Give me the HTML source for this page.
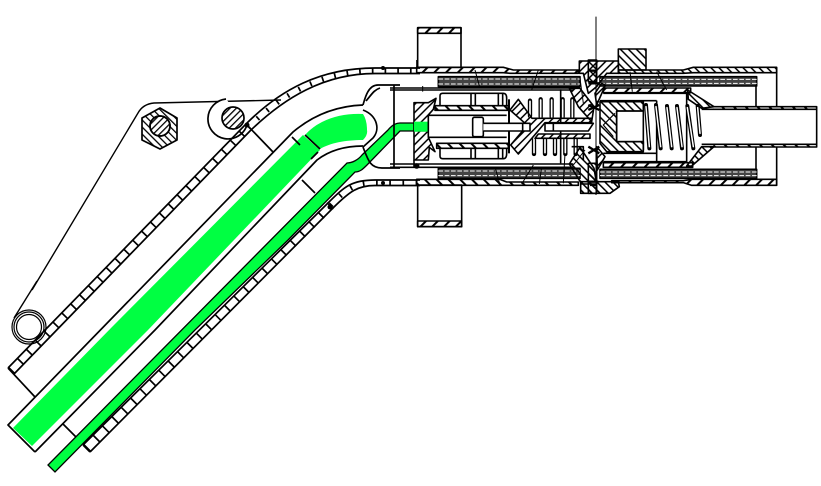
<!DOCTYPE html>
<html><head><meta charset="utf-8"><style>html,body{margin:0;padding:0;background:#fff}svg{display:block}</style></head>
<body>
<svg width="821" height="486" viewBox="0 0 821 486" xmlns="http://www.w3.org/2000/svg">
<defs>
<pattern id="h" width="4.5" height="4.5" patternUnits="userSpaceOnUse" patternTransform="rotate(45)"><rect width="1.300" height="4.5" fill="#000"/></pattern>
<pattern id="k" width="5" height="5" patternUnits="userSpaceOnUse" patternTransform="rotate(-45)"><rect width="1.300" height="5" fill="#000"/></pattern>
<pattern id="b" width="25" height="25" patternUnits="userSpaceOnUse" patternTransform="rotate(45)"><rect width="6" height="25" fill="#000"/></pattern>
<pattern id="c" width="25" height="25" patternUnits="userSpaceOnUse" patternTransform="rotate(-45)"><rect width="6" height="25" fill="#000"/></pattern>
<pattern id="z" width="17" height="17" patternUnits="userSpaceOnUse" patternTransform="rotate(45)"><rect width="4.500" height="17" fill="#000"/></pattern>
<pattern id="y" width="17" height="17" patternUnits="userSpaceOnUse" patternTransform="rotate(-45)"><rect width="4.500" height="17" fill="#000"/></pattern>
</defs>
<rect width="821" height="486" fill="#fff"/>
<g fill="none" stroke="#000" stroke-width="1.700" stroke-linejoin="round">
<!-- plate -->
<path d="M32 290L138 113Q143 104 154 103L281 100" stroke-width="1.400"/>
<polygon points="160,108 177,118 177,140 160,149 142,140 142,118" fill="url(#k)"/>
<circle cx="160" cy="126" r="10" fill="#fff"/><circle cx="160" cy="126" r="10" fill="url(#h)"/>
<path d="M247 125A20 20 0 1 1 226 99" fill="#fff"/>
<circle cx="233" cy="118" r="11" fill="url(#h)"/>
<!-- ring -->
<path d="M37 281L14 318" stroke-width="1.400"/>
<circle cx="29" cy="327" r="17" fill="#fff" stroke-width="1.200"/><circle cx="29" cy="327" r="15" stroke-width="1.200"/><circle cx="29" cy="327" r="12.500" stroke-width="1.200"/>
<!-- upper wall -->
<path d="M8 368L35 397"/>
<path d="M8 368L246 124C280 90 320 68 375 68H420"/>
<path d="M14 374L250 131C284 98 324 73.500 375 73.500H420"/>
<path d="M11 371L248 127.500" stroke-width="8" stroke-dasharray="1.700 11"/>
<path d="M248 127.500C282 94 322 71 375 71H420" stroke-width="5" stroke-dasharray="1.700 11"/>
<path d="M247 125L273 152"/>
<!-- lower wall -->
<path d="M83 445L90 452"/>
<path d="M83 445L328 203C345 186 352 180 375 180H420"/>
<path d="M90 452L333 208C350 191 358 185.500 375 185.500H420"/>
<path d="M86.500 448.500L330.500 205.500" stroke-width="9" stroke-dasharray="1.700 11.500"/>
<path d="M330.500 205.500C347 188.500 355 183 375 183H420" stroke-width="5" stroke-dasharray="1.700 11.500"/>
</g>
<!-- green -->
<polygon points="13,428 32,446 148,330 320,150 303,135 112,327" fill="#00ff42"/>
<path d="M305 135Q312 127 322 122Q340 113 363 114Q367 120 367 130Q368 135 363 140C345 140 330 143 320 149Z" fill="#00ff42"/>
<path d="M48 465L55 472L195 330L288 240L355 172C360 172 363 169 367 165L400 131H428V123H400C396 123 392 125 388 130L362 155C358 160 352 163 347 163Z" fill="#00ff42" stroke="#000" stroke-width="1.300"/>
<g fill="none" stroke="#000" stroke-width="1.700" stroke-linejoin="round">
<!-- main tube -->
<path d="M35 452L8 425L293 132C312 116 335 106 363 105"/>
<path d="M35 452L155 330L317 160C330 150 345 146 363 146"/>
<path d="M305 135L320 149"/>
<path d="M292 137L300 145M311 159L318 152"/>
<path d="M63 424L76 437M302 180L315 193"/>
<!-- end cap -->
<path d="M363 105C365 98 368 85 378 85H400M363 147C368 160 370 168 382 168H400"/>
<path d="M363 110C378 116 380 130 373 138L363 147"/>
<path d="M366 101C372 94 374 90 380 88"/>
<path d="M394 85V168"/>
</g>
<g fill="#000"><circle cx="247" cy="125" r="2.500"/><circle cx="330" cy="207" r="2.500"/><circle cx="383" cy="68" r="2"/><circle cx="383" cy="183" r="2"/><circle cx="417" cy="166" r="2"/></g>
<g transform="translate(400 10) scale(.33333)" fill="none" stroke="#000" stroke-width="4.800" stroke-linejoin="round">
<!-- flanges -->
<rect x="53" y="53" width="130" height="119"/>
<rect x="53" y="53" width="130" height="17" fill="url(#b)"/>
<rect x="53" y="525" width="132" height="125"/>
<rect x="53" y="633" width="132" height="17" fill="url(#b)"/>
<!-- LEFT GROUP -->
<g transform="translate(30 150)">
<path d="M20 22H280L310 30H505V40H300L280 38H20Z" fill="url(#b)"/>
<path d="M20 358H270L290 366H505V376H290L270 376H20Z" fill="url(#c)"/>
<rect x="85" y="50" width="425" height="30" fill="#444"/><path d="M85 57H510M85 72H510" stroke="#fff" stroke-width="3" stroke-dasharray="14 5"/>
<rect x="85" y="325" width="425" height="30" fill="#444"/><path d="M85 333H510M85 347H510" stroke="#fff" stroke-width="3" stroke-dasharray="14 5"/>
<path d="M-60 84H490M-60 90H490M-60 312H490M-60 322H490"/>
<!-- holder -->
<path d="M12 128H55L78 115L70 148L55 165V232L75 275L58 262L55 300H12Z" fill="url(#z)"/>
<rect x="12" y="185" width="43" height="30" fill="#00ff42" stroke="none"/>
<path d="M12 300V320"/>
<circle cx="20" cy="318" r="6" fill="#000"/>
<rect x="55" y="166" width="135" height="66" fill="#fff" stroke="none"/>
<path d="M55 166H290M55 232H290M55 166V232"/>
<!-- barrel -->
<path d="M90 136V108Q90 100 98 100H280Q290 100 290 115V136M90 266V288Q90 296 98 296H280Q290 296 290 280V266"/>
<path d="M183 100V136M196 100V136M265 100V136M278 100V136M183 266V296M196 266V296M265 266V296M278 266V296"/>
<rect x="75" y="137" width="220" height="14" fill="url(#c)"/>
<rect x="80" y="250" width="215" height="15" fill="url(#c)"/>
<path d="M297 118V280" stroke-width="6"/>
<rect x="188" y="172" width="32" height="58" rx="5" fill="#fff"/>
<!-- coils -->
<g stroke-width="13" stroke-linecap="round">
<path d="M360 122V168M392 118V170M425 118V170M458 118V170M487 118V170"/>
<path d="M372 240V282M405 238V282M435 238V282M466 238V282M497 238V282"/>
</g>
<g stroke="#fff" stroke-width="5" stroke-linecap="round">
<path d="M360 124V170M392 120V172M425 120V172M458 120V172M487 120V172"/>
<path d="M372 234V278M405 232V278M435 232V278M466 232V278M497 232V278"/>
</g>
<path d="M452 88V310M485 260H520V300"/>
<!-- valve -->
<path d="M300 150L325 118L366 175H545V188H405L375 224L325 282L302 255L352 196Z" fill="url(#z)"/>
<path d="M385 222H540V235H375Z" fill="url(#z)"/>
<path d="M220 190H360V213H220M338 190V213" fill="#fff"/>
<path d="M405 190H550L535 213H405ZM430 190V213" fill="#fff"/>
<!-- left of centre hatching -->
<path d="M478 85H510L552 140L545 185L505 140Z" fill="url(#z)"/>
<path d="M478 312L510 262L552 325L560 372H515Z" fill="url(#y)"/>
</g>
<!-- RIGHT GROUP -->
<g transform="translate(510 90)">
<rect x="145" y="27" width="83" height="63" fill="url(#y)"/>
<path d="M145 90H340L370 82H620V98H370L340 100H145Z" fill="url(#y)"/>
<path d="M125 422H340L365 418H620V436H365L340 428H125Z" fill="url(#b)"/>
<rect x="90" y="110" width="470" height="28" fill="#444"/><path d="M90 118H560M90 130H560" stroke="#fff" stroke-width="3" stroke-dasharray="14 5"/>
<rect x="90" y="388" width="470" height="27" fill="#444"/><path d="M90 396H560M90 407H560" stroke="#fff" stroke-width="3" stroke-dasharray="14 5"/>
<rect x="100" y="144" width="262" height="14" fill="url(#b)"/>
<rect x="100" y="368" width="268" height="14" fill="url(#b)"/>
<path d="M558 135V200M558 320V390M620 82V200M620 320V436"/>
<!-- body -->
<path d="M100 160H350V365H260V182M100 340H260M100 365H350M90 182H260"/>
<path d="M90 185H220V213H140V305H220V335H110L90 310Z" fill="url(#y)"/>
<path d="M140 213H220M140 305H220M140 213V305"/>
<path d="M135 220L100 255L130 290" stroke-width="3.500"/>
<path d="M353 150L432 200L395 205L355 178Z" fill="url(#y)"/>
<path d="M395 320H432L365 378H350Z" fill="url(#y)"/>
<!-- coils -->
<g stroke-width="12" stroke-linecap="round">
<path d="M228 195L238 325M258 195L272 325M291 198L305 325M321 198L336 325M352 198L370 325M383 198L390 285"/>
</g>
<g stroke="#fff" stroke-width="4.500" stroke-linecap="round">
<path d="M228 200L238 320M258 200L272 320M291 203L305 320M321 203L336 320M352 203L370 320M383 203L390 280"/>
</g>
<path d="M220 190V330"/>
</g>
<!-- outlet -->
<rect x="940" y="290" width="310" height="8" fill="url(#c)" stroke="none"/>
<rect x="940" y="403" width="310" height="8" fill="url(#c)" stroke="none"/>
<path d="M940 290H1250V411H940M905 298H1250M905 403H1250"/>
<!-- CENTRE -->
<g transform="translate(480 120)">
<path d="M58 33H175V70H140L110 110L85 130L70 70H58Z" fill="url(#z)"/>
<path d="M62 395H175L178 410L150 430H62Z" fill="url(#y)"/>
<path d="M85 30H110V95H85ZM85 340H110V430H85Z" fill="url(#y)"/>
<path d="M105 130L125 100L136 106L110 165Z" fill="url(#z)"/>
<path d="M110 290L135 320L112 360Z" fill="url(#z)"/>
<path d="M85 100H118M85 165L118 180M85 180L118 165M85 290L118 310M85 310L118 290M85 395H115M88 62H108M90 405H108" stroke-width="7"/>
</g>
<path d="M588 20V555" stroke-width="3"/>
<!-- leaders -->
<path d="M225 180L240 235M415 180L395 240M540 205L550 280M690 185L697 245M770 185L800 240M285 470L300 525M400 465L365 522M425 470L418 522M495 430L490 520M555 420L520 465M50 150V190M68 228V245" stroke-width="3"/>
</g>
</svg>
</body></html>
